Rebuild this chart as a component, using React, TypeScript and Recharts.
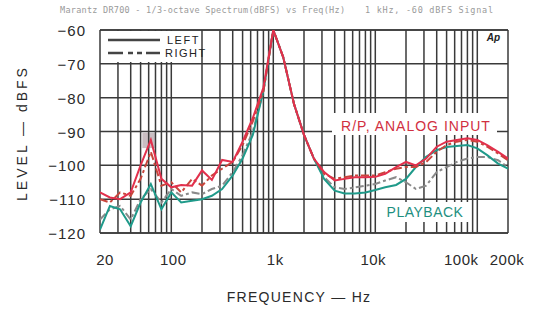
import { LineChart, Line, XAxis, YAxis, CartesianGrid, ReferenceLine, ReferenceArea } from "recharts"

const freqs = [
  20, 25, 31.5, 40, 50, 63, 80, 100, 125, 160, 200, 250, 315, 400, 500, 630, 800, 1000, 1250, 1600, 2000,
  2500, 3150, 4000, 5000, 6300, 8000, 10000, 12500, 16000, 20000, 25000, 31500, 40000, 50000, 63000, 80000,
  100000, 125000, 160000, 200000,
]

// R/P, analog input
const rpLeft = [
  -108, -109.5, -110, -108, -100, -92.5, -104, -106.5, -105.8, -106, -101.5, -104.3, -98.4, -99, -93, -86, -77,
  -60, -68, -82, -91, -98, -102, -104.5, -104, -103.5, -103.5, -103.4, -102.5, -100.5, -99, -100, -98, -94.5, -93,
  -92.5, -92, -92.5, -94, -96, -98,
]
const rpRight = [
  -110, -111, -108, -109, -104, -96, -106, -105, -108, -104, -106, -103, -101, -99, -94, -87, -78, -60, -68, -82,
  -91, -98, -102.5, -104, -103.5, -103, -103, -103, -102, -101, -100.5, -100.5, -99, -96, -94, -93, -92.5, -93,
  -94.5, -96.5, -98.5,
]

// playback
const pbLeft = [
  -119, -112, -113, -118, -111, -105.5, -113, -108, -111, -110.5, -110, -109, -107, -103, -98, -91, -78, -60, -68,
  -82, -91, -98, -104, -107.5, -108.3, -108.3, -108, -107.3, -106.5, -105.8, -104, -100.5, -97.5, -95.5, -94.6,
  -94.3, -94, -95, -97, -99.5, -101,
]
const pbRight = [
  -116, -113, -112, -116, -110, -107, -111, -107, -109, -108, -108.5, -107, -106, -102, -97, -90, -78, -60, -68,
  -82, -91, -98, -103.5, -106.5, -107, -106.5, -106, -105.5, -104.5, -103.5, -105, -107, -106, -102, -100.5, -99,
  -98, -97.5, -97.5, -98.5, -100.5,
]

const gridFreqs = [
  20, 30, 40, 50, 60, 70, 80, 90, 100, 200, 300, 400, 500, 600, 700, 800, 900, 1000, 2000, 3000, 4000, 5000, 6000,
  7000, 8000, 9000, 10000, 20000, 30000, 40000, 50000, 60000, 70000, 80000, 90000, 100000, 200000,
]
const freqTicks = [20, 100, 1000, 10000, 100000, 200000]
const freqTickLabels = ["20", "100", "1k", "10k", "100k", "200k"]
const levelTicks = [-60, -70, -80, -90, -100, -110, -120]

const data = freqs.map((f, i) => ({
  f,
  rpLeft: rpLeft[i],
  rpRight: rpRight[i],
  pbLeft: pbLeft[i],
  pbRight: pbRight[i],
}))

const font = "'Liberation Sans', Arial, sans-serif"
const ink = "#3a3a3a"

function FreqTick({ x, y, payload }: any) {
  const i = freqTicks.indexOf(payload.value)
  const nudge: Record<number, number> = { 20: 5, 100: 2, 1000: 2, 10000: -2, 100000: -16, 200000: -1 }
  return (
    <text x={x + (nudge[payload.value] ?? 0)} y={y + 24} textAnchor="middle" fontFamily={font} fontSize={15}
      letterSpacing={0.5} fill="#2a2a2a">
      {freqTickLabels[i]}
    </text>
  )
}

function LevelTick({ y, payload }: any) {
  return (
    <text x={86} y={y + 6} textAnchor="end" fontFamily={font} fontSize={15} letterSpacing={1} fill="#2a2a2a">
      {"\u2212" + Math.abs(payload.value)}
    </text>
  )
}

export default function App() {
  return (
    <div style={{ position: "absolute", left: 0, top: 0, width: 542, height: 310, background: "#fff" }}>
      <LineChart width={542} height={310} data={data} margin={{ top: 30, right: 34, left: 0, bottom: 0 }}>
        <CartesianGrid vertical={false} stroke={ink} strokeWidth={1.5} strokeDasharray="" />
        <XAxis dataKey="f" type="number" scale="log" domain={[20, 200000]} ticks={freqTicks} interval={0}
          height={77} tick={<FreqTick />} tickLine={false} axisLine={false} allowDataOverflow />
        <YAxis type="number" domain={[-120, -60]} ticks={levelTicks} interval={0} width={100}
          tick={<LevelTick />} tickLine={false} axisLine={false} allowDataOverflow />
        {gridFreqs.map((g) => (
          <ReferenceLine key={g} x={g} stroke={ink} strokeWidth={1.5} />
        ))}
        <ReferenceLine y={-60} stroke={ink} strokeWidth={1.5} />
        <ReferenceLine y={-120} stroke={ink} strokeWidth={1.5} />
        <ReferenceArea x1={52} x2={69} y1={-94.9} y2={-90.4} fill="#bcaeb3" fillOpacity={0.8} stroke="none" />
        <Line dataKey="pbRight" stroke="#8a8a8a" strokeWidth={2} strokeDasharray="8 3 3 3" dot={false}
          isAnimationActive={false} />
        <Line dataKey="pbLeft" stroke="#1f9a8a" strokeWidth={2} dot={false} isAnimationActive={false} />
        <Line dataKey="rpRight" stroke="#c8463c" strokeWidth={2} strokeDasharray="8 3 3 3" dot={false}
          isAnimationActive={false} />
        <Line dataKey="rpLeft" stroke="#e2304c" strokeWidth={2} dot={false} isAnimationActive={false} />
      </LineChart>
      <svg width={542} height={310} style={{ position: "absolute", left: 0, top: 0, pointerEvents: "none" }}>
        <text x={60} y={13} fontFamily="'DejaVu Sans Mono', monospace" fontSize={8.5} fill="#9a9a9a"
          textLength={285} lengthAdjust="spacing">
          Marantz DR700 - 1/3-octave Spectrum(dBFS) vs Freq(Hz)
        </text>
        <text x={365} y={13} fontFamily="'DejaVu Sans Mono', monospace" fontSize={8.5} fill="#9a9a9a"
          textLength={128} lengthAdjust="spacing">
          1 kHz, -60 dBFS Signal
        </text>
        <rect x={101} y={31} width={90} height={31} fill="#fff" />
        <rect x={332} y={113} width={165} height={22} fill="#fff" />
        <rect x={383} y={202} width={87} height={20} fill="#fff" />
        <line x1={108} y1={40} x2={160} y2={40} stroke="#444" strokeWidth={2.5} />
        <text x={167} y={44} fontFamily={font} fontSize={11} letterSpacing={1.5} fill="#222">LEFT</text>
        <line x1={108} y1={53} x2={160} y2={53} stroke="#444" strokeWidth={2.5} strokeDasharray="15 5 5 4 5 4 20" />
        <text x={165} y={57} fontFamily={font} fontSize={11} letterSpacing={1.5} fill="#222">RIGHT</text>
        <text x={500} y={41} textAnchor="end" fontFamily={font} fontSize={10} fontStyle="italic" fontWeight="bold"
          fill="#222">Ap</text>
        <text x={416} y={131} textAnchor="middle" fontFamily={font} fontSize={14} letterSpacing={1} fill="#d1303f">
          R/P, ANALOG INPUT
        </text>
        <text x={425} y={217} textAnchor="middle" fontFamily={font} fontSize={14} letterSpacing={0.5} fill="#1e8f80">
          PLAYBACK
        </text>
        <text transform="translate(27,133) rotate(-90)" textAnchor="middle" fontFamily={font} fontSize={14}
          letterSpacing={3} fill="#2a2a2a">
          LEVEL — dBFS
        </text>
        <text x={299} y={302} textAnchor="middle" fontFamily={font} fontSize={14} letterSpacing={1.3} fill="#2a2a2a">
          FREQUENCY — Hz
        </text>
      </svg>
    </div>
  )
}
